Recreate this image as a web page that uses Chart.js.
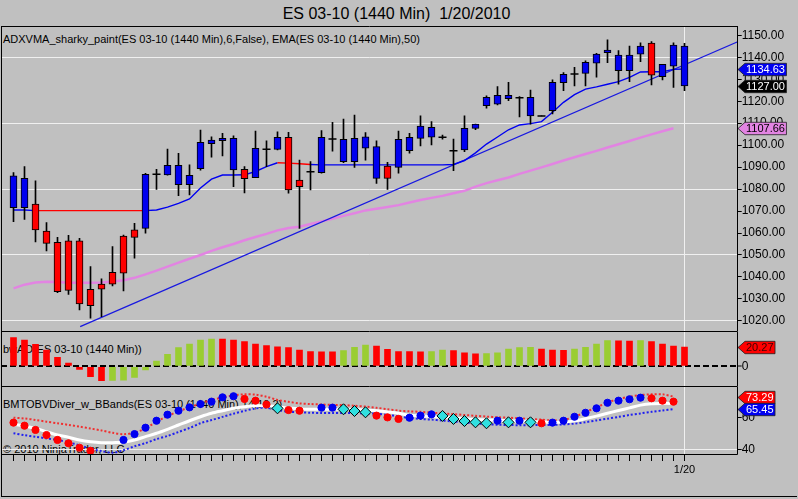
<!DOCTYPE html>
<html><head><meta charset="utf-8">
<script src="https://cdn.jsdelivr.net/npm/chart.js@4.4.1/dist/chart.umd.min.js"></script>
<style>
html,body{margin:0;padding:0;background:#c0c0c0;width:798px;height:499px;overflow:hidden;font-family:"Liberation Sans",Arial,sans-serif;}
.t{position:absolute;white-space:pre;color:#000;z-index:0;line-height:1;}
canvas{position:absolute;z-index:1;}
#frame{position:absolute;left:1px;top:26px;width:796px;height:471px;border-left:1px solid #000;border-bottom:1px solid #000;box-sizing:border-box;}
#xticks{position:absolute;left:13px;top:455px;width:672px;height:6px;z-index:2;
  background:repeating-linear-gradient(to right,#000 0px,#000 1px,transparent 1px,transparent 11px);}
</style></head><body>
<div id="frame"></div>
<div class="t" style="left:0;width:793px;text-align:center;top:6px;font-size:16px;">ES 03-10 (1440 Min)  1/20/2010</div>
<div class="t" style="left:3px;top:34px;font-size:11px;">ADXVMA_sharky_paint(ES 03-10 (1440 Min),6,False), EMA(ES 03-10 (1440 Min),50)</div>
<div class="t" style="left:3px;top:344px;font-size:11px;">bwAO(ES 03-10 (1440 Min))</div>
<div class="t" style="left:3px;top:399px;font-size:11px;">BMTOBVDiver_w_BBands(ES 03-10 (1440 Min),14,10,2)</div>
<div class="t" style="left:3px;top:444px;font-size:11px;">© 2010 NinjaTrader, LLC</div>
<canvas id="cA" width="797" height="306" style="left:1px;top:26px"></canvas>
<canvas id="cB" width="797" height="55" style="left:1px;top:332px"></canvas>
<canvas id="cC" width="797" height="90" style="left:1px;top:387px"></canvas>
<div id="xticks"></div>
<script>
// ---------- categories ----------
const dates = ['10/21','10/22','10/23','10/26','10/27','10/28','10/29','10/30','11/2','11/3',
 '11/4','11/5','11/6','11/9','11/10','11/11','11/12','11/13','11/16','11/17',
 '11/18','11/19','11/20','11/23','11/24','11/25','11/27','11/30','12/1','12/2',
 '12/3','12/4','12/7','12/8','12/9','12/10','12/11','12/14','12/15','12/16',
 '12/17','12/18','12/21','12/22','12/23','12/24','12/28','12/29','12/30','12/31',
 '1/4','1/5','1/6','1/7','1/8','1/11','1/12','1/13','1/14','1/15','1/19','1/20'];
const labeledDates = ['1/20'];

// ---------- price panel ----------
const opens  = [1071.5,1071.5,1073.2,1060.9,1055.8,1056.4,1056.4,1034.4,1036.8,1042.1,
 1058.6,1061.4,1062.1,1086.7,1086.5,1082.0,1082.0,1089.3,1100.7,1102.0,
 1088.7,1089.0,1085.2,1098.1,1098.1,1103.6,1084.1,1087.9,1087.5,1102.8,
 1092.5,1092.5,1098.6,1084.9,1090.5,1089.9,1097.5,1103.1,1103.6,1103.6,
 1097.5,1097.8,1107.6,1118.0,1118.6,1121.1,1121.6,1113.3,1113.3,1115.7,
 1128.4,1132.4,1132.7,1137.3,1142.1,1133.9,1133.9,1141.4,1146.4,1131.2,
 1136.0,1145.1];
const highs  = [1087.5,1090.2,1083.8,1064.7,1058.0,1059.0,1057.6,1044.7,1039.1,1053.8,
 1059.1,1064.4,1087.2,1089.0,1098.2,1096.3,1091.0,1106.9,1103.8,1105.4,
 1104.2,1090.2,1106.4,1102.0,1106.1,1105.8,1093.2,1092.5,1106.6,1110.4,
 1111.9,1113.7,1105.7,1102.0,1092.2,1106.4,1105.4,1113.3,1110.7,1104.6,
 1102.8,1113.3,1109.6,1122.4,1126.6,1128.6,1122.1,1125.1,1113.3,1129.7,
 1133.0,1135.4,1138.4,1141.8,1147.9,1143.0,1145.1,1146.6,1147.1,1136.8,
 1146.6,1146.3];
const lows   = [1065.2,1066.2,1056.0,1051.9,1032.8,1032.1,1025.0,1021.2,1021.9,1035.9,
 1033.7,1048.5,1059.9,1079.9,1086.3,1077.0,1077.3,1088.6,1094.5,1095.1,
 1081.1,1078.3,1085.2,1090.2,1097.8,1078.1,1062.1,1079.6,1087.2,1097.3,
 1092.0,1089.9,1093.2,1082.6,1079.9,1087.2,1096.3,1099.6,1100.1,1102.7,
 1088.4,1097.0,1107.0,1116.8,1118.3,1120.2,1112.9,1109.6,1113.3,1114.2,
 1124.8,1126.9,1126.9,1130.9,1137.5,1127.8,1128.9,1138.0,1127.4,1129.7,
 1126.3,1124.8];
const closes = [1086.0,1084.9,1061.4,1055.3,1033.3,1033.9,1027.7,1026.9,1034.4,1036.7,
 1041.7,1058.0,1086.7,1086.7,1090.8,1090.8,1086.3,1101.3,1102.3,1103.1,
 1103.1,1084.7,1098.6,1098.1,1103.6,1079.6,1081.1,1087.9,1103.6,1102.8,
 1102.7,1103.1,1103.8,1099.3,1084.9,1102.7,1103.6,1108.7,1108.1,1103.6,
 1097.5,1107.7,1109.6,1121.8,1122.7,1122.7,1121.6,1121.8,1113.3,1128.6,
 1132.2,1132.4,1137.7,1141.5,1143.3,1141.0,1141.0,1145.1,1131.9,1136.8,
 1145.6,1127.0];
const barTrend = ['B','B','R','R','R','R','R','R','R','R',
 'R','R','B','B','B','B','B','B','B','B',
 'B','R','B','B','B','R','R','B','B','B',
 'B','B','B','B','R','B','B','B','B','B',
 'B','B','B','B','B','B','B','B','B','B',
 'B','B','B','B','B','B','B','B','R','B',
 'B','B'];
const adxvma = [1070.5,1070.5,1070.2,1070.2,1070.2,1070.2,1070.2,1070.2,1070.2,1070.2,
 1070.2,1070.2,1070.2,1070.5,1071.8,1073.5,1075.5,1080.5,1084.5,1086.4,
 1086.4,1086.5,1088.0,1090.2,1092.0,1091.8,1091.5,1091.2,1091.0,1091.0,
 1091.0,1091.0,1091.0,1091.0,1091.0,1091.0,1091.0,1091.0,1091.0,1091.0,
 1091.2,1093.0,1096.5,1100.5,1103.7,1107.0,1109.2,1109.8,1110.7,1115.0,
 1119.5,1123.0,1125.5,1126.5,1127.7,1128.9,1130.8,1133.3,1133.4,1133.4,
 1134.5,1134.63];
const adxvmaFlat = [0,0,1,1,1,1,1,1,1,1, 1,1,1,0,0,0,0,0,0,0, 0,0,0,0,1,1,1,1,0,0,
 0,0,0,0,0,0,0,0,0,0, 0,0,0,0,0,0,0,0,0,0, 0,0,0,0,0,0,0,0,0,0, 0,0];
const ema50 = [1034.8,1036.5,1037.5,1037.8,1037.7,1037.4,1037.4,1037.4,1037.5,1037.9,
 1038.5,1039.6,1041.2,1042.9,1044.7,1046.5,1048.3,1050.0,1051.9,1053.5,
 1055.0,1056.7,1058.2,1059.6,1061.2,1062.3,1062.9,1064.1,1065.3,1066.5,
 1067.8,1069.0,1070.3,1071.0,1071.8,1072.7,1073.9,1075.0,1076.0,1076.9,
 1078.1,1079.2,1081.1,1082.7,1084.0,1085.3,1086.9,1088.4,1089.9,1091.4,
 1093.0,1094.5,1096.0,1097.4,1098.9,1100.4,1101.9,1103.4,1104.9,1106.3,
 1107.66,null];
const trendLineX = [6.06, 66];
const trendLineY = [1017.4, 1147.4];
const priceTicks = [1020,1030,1040,1050,1060,1070,1080,1090,1100,1110,1120,1130,1140,1150];

// ---------- bwAO panel ----------
const aoValues = [30.1,27.7,23.2,17.2,9.5,3.5,-3.2,-10.9,-15.1,-14.9,
 -14.7,-11.6,-3.9,5.6,12.6,19.6,23.5,27.7,28.7,28.6,
 27.7,25.9,23.5,21.7,20.6,19.6,17.2,15.4,15.3,15.2,
 16.5,20.0,22.4,21.4,17.9,15.6,15.4,15.2,15.5,17.2,
 16.5,14.3,13.0,13.3,14.3,18.2,19.6,20.0,18.2,17.2,
 16.9,18.2,20.0,23.5,27.0,26.8,26.6,27.0,25.9,23.5,
 21.4,20.27];
const aoColors = ['R','R','R','R','R','R','R','R','R','G',
 'G','G','G','G','G','G','G','G','G','R',
 'R','R','R','R','R','R','R','R','R','R',
 'G','G','G','R','R','R','R','R','G','G',
 'R','R','R','G','G','G','G','G','R','R',
 'R','G','G','G','G','R','R','G','R','R',
 'R','R'];
const aoTicks = [0];

// ---------- BMTOBVDiver panel ----------
const obvDots = [56.9,55.0,52.3,49.1,46.0,43.9,41.1,39.2,null,null,
 46.0,49.7,53.7,58.1,61.9,64.4,66.5,68.6,70.1,72.8,
 73.5,71.8,70.7,68.3,65.9,64.8,64.4,null,66.3,66.3,
 65.3,64.2,63.4,61.3,60.2,59.2,60.0,61.3,62.1,61.1,
 59.2,57.9,57.1,56.5,58.1,57.1,58.1,57.1,56.5,56.9,
 58.1,60.6,63.1,65.9,69.4,70.7,71.6,72.6,72.2,70.7,
 70.1,null];
const obvDotKind = ['R','R','R','R','R','R','R','R','-','-',
 'B','B','B','B','B','B','B','B','B','B',
 'B','R','R','R','C','R','R','-','B','B',
 'C','C','C','R','R','R','B','B','B','C',
 'C','C','C','C','B','C','B','C','R','B',
 'B','B','B','B','B','B','B','B','R','R',
 'R','-'];
const obvMid = [55.8,54.8,53.3,51.2,49.1,47.7,46.0,44.9,44.3,44.3,
 44.7,46.0,48.1,50.2,52.7,55.4,58.1,60.6,62.8,64.4,
 65.9,66.9,67.5,67.5,66.9,66.1,65.5,65.3,65.3,65.3,
 65.3,65.1,64.8,64.4,63.6,62.8,61.5,61.1,60.7,60.3,
 59.8,59.3,58.9,58.6,58.4,58.1,57.9,57.6,57.3,57.1,
 57.2,58.0,59.4,61.0,62.8,64.5,66.2,67.9,68.8,69.0,
 69.0,null];
const bandUpper = [60.0,59.5,58.6,57.5,56.5,55.5,54.4,53.2,52.0,50.5,
 49.6,50.6,53.3,57.5,61.0,64.0,66.5,69.0,71.0,72.8,
 74.0,74.7,74.5,73.2,71.2,70.0,69.0,68.6,68.3,68.1,
 67.9,67.5,67.0,66.2,65.3,64.4,64.0,63.7,63.2,62.7,
 62.2,61.7,61.2,60.7,60.3,60.0,59.6,59.1,58.8,58.2,
 58.6,60.6,63.5,66.5,69.5,71.8,73.2,74.3,74.7,74.7,
 73.29,null];
const bandLower = [50.2,49.0,48.0,47.0,46.0,44.5,42.6,40.5,39.0,38.0,
 39.5,42.0,44.0,46.5,48.5,51.0,53.5,56.5,58.5,60.5,
 62.5,64.3,65.8,66.3,64.8,63.8,63.4,63.1,63.0,63.0,
 63.0,62.9,62.8,62.5,61.8,60.8,59.8,59.2,58.8,58.2,
 57.6,57.0,56.4,55.9,55.6,55.4,55.3,55.3,55.4,55.5,
 55.8,56.3,57.2,58.3,59.4,60.5,61.7,62.7,63.7,64.6,
 65.45,null];
const obvTicks = [40, 60];

// ---------- styling ----------
const BLUE = '#0000f0', RED = '#ff0000', GREEN = '#9acd32', CYAN = '#30e0e0', VIOLET = '#e284e2';
const GRID = '#f0f0f0', CLEAR = 'rgba(0,0,0,0)';
const X_MIN = -1.13636, X_MAX = 65.8364, AXIS_W = 60.3;
Chart.defaults.font.family = '"Liberation Sans", Arial, sans-serif';
Chart.defaults.font.size = 12;
Chart.defaults.color = '#000';
Chart.defaults.animation = false;

const lastVal = arr => { for (let i = arr.length - 1; i >= 0; i--) if (arr[i] !== null) return arr[i]; return null; };
const pts = arr => arr.map((v, i) => ({x: i, y: v}));

function panelPlugin(drawTop, tags, xTicks) {
  return {
    id: 'panel',
    afterDatasetsDraw(chart) {
      const {ctx, chartArea: a} = chart;
      const l = a.left + 0.5, r = Math.floor(a.right) + 0.5, t = a.top + 0.5, b = a.bottom - 0.5;
      ctx.save();
      ctx.strokeStyle = '#000'; ctx.lineWidth = 1;
      ctx.beginPath();
      if (drawTop) { ctx.moveTo(l, t); ctx.lineTo(r, t); }
      ctx.moveTo(r, a.top); ctx.lineTo(r, b); ctx.lineTo(l, b); ctx.lineTo(l, a.top);
      ctx.stroke();
      ctx.restore();
    },
    afterDraw(chart) {
      const {ctx, chartArea: a} = chart;
      const ys = chart.scales.y;
      const x0 = Math.floor(a.right) + 1;
      ctx.save();
      if (xTicks) {
        const xs = chart.scales.x;
        ctx.fillStyle = '#000';
        for (let i = 0; i < dates.length; i++) {
          const px = Math.floor(xs.getPixelForValue(i));
          ctx.fillRect(px, Math.round(a.bottom), 1, 6);
        }
      }
      ctx.font = '11px "Liberation Sans", Arial, sans-serif';
      ctx.textBaseline = 'middle'; ctx.textAlign = 'left';
      tags.forEach(t => {
        const y = Math.round(ys.getPixelForValue(t.value)) + 0.5;
        const txt = t.value.toFixed(2);
        const w = ctx.measureText(txt).width;
        const h = 6.2, right = x0 + 8 + w + 1.5;
        ctx.beginPath();
        ctx.moveTo(x0, y); ctx.lineTo(x0 + 7, y - h); ctx.lineTo(right, y - h);
        ctx.lineTo(right, y + h); ctx.lineTo(x0 + 7, y + h); ctx.closePath();
        ctx.fillStyle = t.bg; ctx.fill();
        ctx.strokeStyle = '#202020'; ctx.lineWidth = 0.8; ctx.stroke();
        ctx.fillStyle = t.fg; ctx.fillText(txt, x0 + 8, y + 0.5);
      });
      ctx.restore();
    }
  };
}

function xAxis(showTicks) {
  return {
    type: 'linear', min: X_MIN, max: X_MAX, offset: false, display: true,
    grid: {offset: false, drawTicks: false, tickLength: 0,
           color: c => (c.tick && dates[c.tick.value] === '1/20') ? GRID : CLEAR},
    border: {display: false},
    ticks: {display: showTicks, autoSkip: false, maxRotation: 0, minRotation: 0, padding: 8,
            font: {size: 11},
            callback: v => labeledDates.includes(dates[v]) ? dates[v] : ''},
    afterBuildTicks: s => { s.ticks = dates.map((d, i) => ({value: i})); },
    afterFit: s => { s.height = showTicks ? 22 : 0; s.paddingLeft = 0; s.paddingRight = 0; }
  };
}
function yAxis(min, max, tickVals, fmt, gridFn, lineWidth, dash) {
  return {
    position: 'right', min, max,
    afterBuildTicks: s => { s.ticks = tickVals.map(v => ({value: v})); },
    ticks: {callback: fmt, autoSkip: false, padding: 0, font: {size: 12}},
    grid: {color: gridFn, tickColor: '#000', tickLength: 4, tickWidth: 1, lineWidth: lineWidth},
    border: {display: false, dash: dash},
    afterFit: s => { s.width = AXIS_W; s.paddingTop = 0; s.paddingBottom = 0; }
  };
}
const baseOpts = {responsive: false, maintainAspectRatio: false, events: [],
  layout: {padding: 0, autoPadding: false}, plugins: {legend: {display: false}, tooltip: {enabled: false}}};

// ---------- chart A: price ----------
const bodyData = [], bodyColors = [], wickData = [], dojiData = [];
for (let i = 0; i < dates.length; i++) {
  wickData.push({x: i, y: [lows[i], highs[i]]});
  if (opens[i] === closes[i]) dojiData.push({x: i, y: opens[i]});
  else { bodyData.push({x: i, y: [opens[i], closes[i]]}); bodyColors.push(barTrend[i] === 'R' ? RED : BLUE); }
}
new Chart(document.getElementById('cA'), {
  type: 'bar',
  data: {datasets: [
    {type: 'line', data: dojiData, showLine: false, pointStyle: 'line', pointRadius: 4,
     pointBorderColor: '#000', pointBorderWidth: 1.5, order: 0},
    {type: 'bar', data: bodyData, backgroundColor: bodyColors, borderColor: '#000', borderWidth: 1,
     borderSkipped: false, barThickness: 7, grouped: false, order: 1},
    {type: 'bar', data: wickData, backgroundColor: '#000', barThickness: 1, grouped: false, order: 2},
    {type: 'line', data: pts(adxvma), borderWidth: 1.4, pointRadius: 0, borderColor: BLUE,
     segment: {borderColor: c => (adxvmaFlat[c.p0DataIndex] && adxvmaFlat[c.p1DataIndex]) ? RED : BLUE}, order: 3},
    {type: 'line', data: trendLineX.map((x, i) => ({x, y: trendLineY[i]})), borderColor: '#1818e0',
     borderWidth: 1.2, pointRadius: 0, order: 4},
    {type: 'line', data: pts(ema50), borderColor: VIOLET, borderWidth: 2.5, pointRadius: 0, order: 5}
  ]},
  options: Object.assign({}, baseOpts, {scales: {
    x: xAxis(false),
    y: yAxis(1014.95, 1154.23, priceTicks, v => v.toFixed(2),
      c => (c.tick && c.tick.value % 30 === 0) ? GRID : CLEAR, 1, [])
  }}),
  plugins: [panelPlugin(true, [
    {value: lastVal(adxvma), bg: BLUE, fg: '#fff'},
    {value: lastVal(closes), bg: '#000', fg: '#fff'},
    {value: lastVal(ema50), bg: VIOLET, fg: '#000'}
  ], false)]
});

// ---------- chart B: bwAO ----------
new Chart(document.getElementById('cB'), {
  type: 'bar',
  data: {datasets: [
    {type: 'bar', data: pts(aoValues), backgroundColor: aoColors.map(c => c === 'G' ? GREEN : RED),
     barThickness: 6, grouped: false}
  ]},
  options: Object.assign({}, baseOpts, {scales: {
    x: xAxis(false),
    y: yAxis(-21.79, 36.1, aoTicks, v => String(v), c => c.tick ? '#000' : CLEAR, 2, [6, 3])
  }}),
  plugins: [panelPlugin(false, [{value: lastVal(aoValues), bg: RED, fg: '#400000'}], false)]
});

// ---------- chart C: BMTOBVDiver ----------
const kindColor = k => k === 'R' ? RED : (k === 'C' ? CYAN : BLUE);
new Chart(document.getElementById('cC'), {
  type: 'line',
  data: {datasets: [
    {data: pts(obvDots), showLine: false, order: 0,
     pointStyle: c => obvDotKind[c.dataIndex] === 'C' ? 'rectRot' : 'circle',
     pointRadius: c => obvDotKind[c.dataIndex] === 'C' ? 5.5 : 3.6,
     pointBackgroundColor: c => kindColor(obvDotKind[c.dataIndex]),
     pointBorderColor: c => obvDotKind[c.dataIndex] === 'C' ? '#000' : kindColor(obvDotKind[c.dataIndex]),
     pointBorderWidth: 1},
    {data: pts(obvMid), borderColor: '#ffffff', borderWidth: 3, pointRadius: 0, tension: 0.3, order: 1},
    {data: pts(bandUpper), borderColor: '#f03030', borderWidth: 2, borderDash: [2, 2], pointRadius: 0, tension: 0.3, order: 2},
    {data: pts(bandLower), borderColor: '#2020f0', borderWidth: 2, borderDash: [2, 2], pointRadius: 0, tension: 0.3, order: 3}
  ]},
  options: Object.assign({}, baseOpts, {scales: {
    x: xAxis(true),
    y: yAxis(36.54, 79.31, obvTicks, v => String(v), c => (c.tick && c.tick.value === 40) ? GRID : CLEAR, 1, [])
  }}),
  plugins: [panelPlugin(false, [
    {value: lastVal(bandUpper), bg: RED, fg: '#fff'},
    {value: lastVal(bandLower), bg: BLUE, fg: '#fff'}
  ], true)]
});
</script>
</body></html>
